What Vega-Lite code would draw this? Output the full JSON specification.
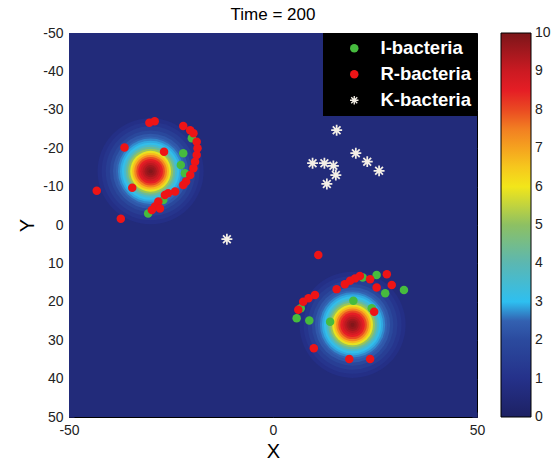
{
  "$schema": "https://vega.github.io/schema/vega-lite/v6.json",
  "width": 408,
  "height": 384,
  "autosize": {"type": "none"},
  "padding": {"left": 69, "top": 33, "right": 81, "bottom": 47},
  "title": {"text": "Time = 200", "fontSize": 17, "font": "Liberation Sans", "fontWeight": "normal", "color": "black", "offset": 2, "anchor": "middle"},
  "datasets": {
    "field": [{"x": -50, "x2": 50, "y": -50, "y2": 50, "v": 0.6}],
    "rings": [
      {"x": -30, "y": -14, "r": 13, "v": 0.9}, {"x": -30, "y": -14, "r": 12, "v": 1.15}, {"x": -30, "y": -14, "r": 11, "v": 1.5}, {"x": -30, "y": -14, "r": 10, "v": 1.9},
      {"x": -30, "y": -14, "r": 9.2, "v": 2.3}, {"x": -30, "y": -14, "r": 8.5, "v": 2.55}, {"x": -30, "y": -14, "r": 8, "v": 2.75}, {"x": -30, "y": -14, "r": 7.5, "v": 2.9},
      {"x": -30, "y": -14, "r": 7, "v": 3.1}, {"x": -30, "y": -14, "r": 6.5, "v": 3.6}, {"x": -30, "y": -14, "r": 6, "v": 4.3}, {"x": -30, "y": -14, "r": 5.5, "v": 5.1},
      {"x": -30, "y": -14, "r": 5, "v": 5.9}, {"x": -30, "y": -14, "r": 4.5, "v": 6.7}, {"x": -30, "y": -14, "r": 4, "v": 7.4}, {"x": -30, "y": -14, "r": 3.5, "v": 8.0},
      {"x": -30, "y": -14, "r": 3, "v": 8.5}, {"x": -30, "y": -14, "r": 2.5, "v": 8.9}, {"x": -30, "y": -14, "r": 2, "v": 9.2}, {"x": -30, "y": -14, "r": 1.5, "v": 9.5},
      {"x": -30, "y": -14, "r": 1, "v": 9.7}, {"x": -30, "y": -14, "r": 0.5, "v": 9.9},
      {"x": 19.5, "y": 26, "r": 13, "v": 0.9}, {"x": 19.5, "y": 26, "r": 12, "v": 1.15}, {"x": 19.5, "y": 26, "r": 11, "v": 1.5}, {"x": 19.5, "y": 26, "r": 10, "v": 1.9},
      {"x": 19.5, "y": 26, "r": 9.2, "v": 2.3}, {"x": 19.5, "y": 26, "r": 8.5, "v": 2.55}, {"x": 19.5, "y": 26, "r": 8, "v": 2.75}, {"x": 19.5, "y": 26, "r": 7.5, "v": 2.9},
      {"x": 19.5, "y": 26, "r": 7, "v": 3.1}, {"x": 19.5, "y": 26, "r": 6.5, "v": 3.6}, {"x": 19.5, "y": 26, "r": 6, "v": 4.3}, {"x": 19.5, "y": 26, "r": 5.5, "v": 5.1},
      {"x": 19.5, "y": 26, "r": 5, "v": 5.9}, {"x": 19.5, "y": 26, "r": 4.5, "v": 6.7}, {"x": 19.5, "y": 26, "r": 4, "v": 7.4}, {"x": 19.5, "y": 26, "r": 3.5, "v": 8.0},
      {"x": 19.5, "y": 26, "r": 3, "v": 8.5}, {"x": 19.5, "y": 26, "r": 2.5, "v": 8.9}, {"x": 19.5, "y": 26, "r": 2, "v": 9.2}, {"x": 19.5, "y": 26, "r": 1.5, "v": 9.5},
      {"x": 19.5, "y": 26, "r": 1, "v": 9.7}, {"x": 19.5, "y": 26, "r": 0.5, "v": 9.9}
    ],
    "pts": [
      {"x": -22, "y": -18.7, "type": "I-bacteria"}, {"x": -22.6, "y": -15.6, "type": "I-bacteria"}, {"x": -21.6, "y": -13.5, "type": "I-bacteria"},
      {"x": -19.9, "y": -22.6, "type": "I-bacteria"}, {"x": -26.9, "y": -6.5, "type": "I-bacteria"}, {"x": -30.6, "y": -3.0, "type": "I-bacteria"},
      {"x": 25.4, "y": 13.0, "type": "I-bacteria"}, {"x": 22, "y": 13.7, "type": "I-bacteria"}, {"x": 27.5, "y": 17.8, "type": "I-bacteria"},
      {"x": 32.1, "y": 16.9, "type": "I-bacteria"}, {"x": 19.7, "y": 19.7, "type": "I-bacteria"}, {"x": 24.2, "y": 21.7, "type": "I-bacteria"},
      {"x": 14.0, "y": 25.2, "type": "I-bacteria"}, {"x": 8.9, "y": 24.9, "type": "I-bacteria"}, {"x": 5.8, "y": 24.3, "type": "I-bacteria"},
      {"x": 6.8, "y": 21.7, "type": "I-bacteria"},
      {"x": -30.3, "y": -26.6, "type": "R-bacteria"}, {"x": -29, "y": -27, "type": "R-bacteria"}, {"x": -22, "y": -25.8, "type": "R-bacteria"},
      {"x": -20.3, "y": -24.7, "type": "R-bacteria"}, {"x": -19.5, "y": -23.9, "type": "R-bacteria"}, {"x": -18.7, "y": -21.7, "type": "R-bacteria"},
      {"x": -18.5, "y": -20, "type": "R-bacteria"}, {"x": -18.7, "y": -18.2, "type": "R-bacteria"}, {"x": -19.1, "y": -16.5, "type": "R-bacteria"},
      {"x": -19.5, "y": -14.8, "type": "R-bacteria"}, {"x": -20.3, "y": -13, "type": "R-bacteria"}, {"x": -21.3, "y": -11.3, "type": "R-bacteria"},
      {"x": -22, "y": -10.4, "type": "R-bacteria"}, {"x": -24, "y": -8.7, "type": "R-bacteria"}, {"x": -25.7, "y": -8.3, "type": "R-bacteria"},
      {"x": -26.5, "y": -7.8, "type": "R-bacteria"}, {"x": -28.1, "y": -6.1, "type": "R-bacteria"}, {"x": -28.9, "y": -4.8, "type": "R-bacteria"},
      {"x": -29.7, "y": -3.9, "type": "R-bacteria"}, {"x": -27.7, "y": -4.3, "type": "R-bacteria"}, {"x": -36.4, "y": -20.2, "type": "R-bacteria"},
      {"x": -26.7, "y": -19.1, "type": "R-bacteria"}, {"x": -34.5, "y": -9.7, "type": "R-bacteria"}, {"x": -43.2, "y": -8.9, "type": "R-bacteria"},
      {"x": -37.3, "y": -1.6, "type": "R-bacteria"},
      {"x": 11.1, "y": 7.8, "type": "R-bacteria"}, {"x": 27.9, "y": 12.8, "type": "R-bacteria"}, {"x": 29.1, "y": 15.6, "type": "R-bacteria"},
      {"x": 25.4, "y": 16.3, "type": "R-bacteria"}, {"x": 23.8, "y": 14.1, "type": "R-bacteria"}, {"x": 21.3, "y": 13.3, "type": "R-bacteria"},
      {"x": 20.1, "y": 13.9, "type": "R-bacteria"}, {"x": 18.9, "y": 14.5, "type": "R-bacteria"}, {"x": 17.6, "y": 15.4, "type": "R-bacteria"},
      {"x": 15.6, "y": 16.7, "type": "R-bacteria"}, {"x": 10.3, "y": 18.2, "type": "R-bacteria"}, {"x": 8.7, "y": 19.1, "type": "R-bacteria"},
      {"x": 7.4, "y": 20, "type": "R-bacteria"}, {"x": 6.2, "y": 22.1, "type": "R-bacteria"}, {"x": 24.8, "y": 22.6, "type": "R-bacteria"},
      {"x": 10.0, "y": 32.1, "type": "R-bacteria"}, {"x": 18.7, "y": 34.9, "type": "R-bacteria"}, {"x": 23.8, "y": 34.9, "type": "R-bacteria"},
      {"x": 15.6, "y": -24.7, "type": "K-bacteria"}, {"x": 20.3, "y": -18.7, "type": "K-bacteria"}, {"x": 23.1, "y": -16.5, "type": "K-bacteria"},
      {"x": 26, "y": -14.1, "type": "K-bacteria"}, {"x": 9.7, "y": -16.1, "type": "K-bacteria"}, {"x": 12.6, "y": -16.1, "type": "K-bacteria"},
      {"x": 14.8, "y": -15.4, "type": "K-bacteria"}, {"x": 15.4, "y": -13.0, "type": "K-bacteria"}, {"x": 13.2, "y": -10.7, "type": "K-bacteria"},
      {"x": -11.3, "y": 3.7, "type": "K-bacteria"}
    ]
  },
  "layer": [
    {
      "data": {"name": "field"},
      "mark": {"type": "rect"},
      "encoding": {
        "x": {"field": "x", "type": "quantitative", "title": "X", "scale": {"domain": [-50, 50], "nice": false, "zero": false},
          "axis": {"values": [-50, 0, 50], "labelExpr": "datum.value + ''", "title": "X", "titleFontSize": 20, "titleFont": "Liberation Sans", "titleFontWeight": "normal", "titleColor": "black", "titlePadding": 4,
            "labelFontSize": 14, "labelFont": "Liberation Sans", "labelColor": "#222", "labelPadding": 11, "labelFlush": false, "tickSize": -5, "tickColor": "#15184a", "domain": false, "grid": false}},
        "x2": {"field": "x2"},
        "y": {"field": "y", "type": "quantitative", "title": "Y", "scale": {"domain": [-50, 50], "reverse": true, "nice": false, "zero": false},
          "axis": {"values": [-50, -40, -30, -20, -10, 0, 10, 20, 30, 40, 50], "labelExpr": "datum.value + ''", "title": "Y", "titleFontSize": 20, "titleFont": "Liberation Sans", "titleFontWeight": "normal", "titleColor": "black", "titlePadding": 5,
            "labelFontSize": 14, "labelFont": "Liberation Sans", "labelColor": "#222", "labelPadding": 11, "labelFlush": false, "tickSize": -5, "tickColor": "#15184a", "domain": false, "grid": false}},
        "y2": {"field": "y2"},
        "color": {"field": "v", "type": "quantitative",
          "scale": {"domain": [0, 1, 2, 2.6, 3, 4, 5, 6, 6.6, 7, 7.5, 8, 8.5, 9, 10],
            "range": ["#1d2163", "#25318a", "#2b4a9e", "#3466b5", "#2ebff0", "#5bb7b2", "#8dc063", "#f2e61a", "#f7c21e", "#f5a31f", "#f27f22", "#ea4a22", "#e51e25", "#cc1a22", "#7b1519"],
            "interpolate": "rgb"},
          "legend": {"title": null, "orient": "right", "offset": 23, "padding": 0, "gradientLength": 384, "gradientThickness": 30,
            "values": [0, 1, 2, 3, 4, 5, 6, 7, 8, 9, 10], "labelFontSize": 14, "labelFont": "Liberation Sans", "labelColor": "#222", "labelOffset": 4, "labelOverlap": false,
            "gradientStrokeColor": "black", "gradientStrokeWidth": 1,
            "encode": {"labels": {"update": {"baseline": {"value": "middle"}}}}}}
      }
    },
    {
      "data": {"name": "rings"},
      "mark": {"type": "point", "filled": true, "opacity": 1, "strokeWidth": 0, "shape": "circle"},
      "encoding": {
        "x": {"field": "x", "type": "quantitative", "title": "X"},
        "y": {"field": "y", "type": "quantitative", "title": "Y", "axis": null},
        "size": {"field": "r", "type": "quantitative", "scale": {"type": "pow", "exponent": 2, "domain": [0, 13], "range": [0, 11253]}, "legend": null},
        "color": {"field": "v", "type": "quantitative"}
      }
    },
    {
      "data": {"name": "pts"},
      "transform": [{"filter": "datum.type !== 'K-bacteria'"}],
      "mark": {"type": "point", "filled": true, "opacity": 1, "strokeWidth": 0, "size": 72},
      "encoding": {
        "x": {"field": "x", "type": "quantitative", "title": "X"},
        "y": {"field": "y", "type": "quantitative", "title": "Y", "axis": null},
        "fill": {"field": "type", "type": "nominal", "scale": {"domain": ["I-bacteria", "R-bacteria", "K-bacteria"], "range": ["#46bb3e", "#ee1416", "#f4efe6"]},
          "legend": {"title": null, "orient": "top-right", "offset": 0, "fillColor": "black", "padding": 6, "labelColor": "white", "labelFont": "Liberation Sans", "labelFontSize": 18.5, "labelFontWeight": "bold", "symbolSize": 72, "symbolOffset": 16, "labelOffset": 17, "rowPadding": 7, "symbolStrokeWidth": 0}},
        "shape": {"field": "type", "type": "nominal", "scale": {"domain": ["I-bacteria", "R-bacteria", "K-bacteria"], "range": ["circle", "circle", "M-0.16,-1L0.16,-1L0.16,1L-0.16,1ZM1,-0.16L1,0.16L-1,0.16L-1,-0.16ZM0.594,-0.82L0.82,-0.594L-0.594,0.82L-0.82,0.594ZM-0.82,-0.594L-0.594,-0.82L0.82,0.594L0.594,0.82Z"]},
          "legend": {"title": null, "orient": "top-right", "offset": 0, "fillColor": "black", "padding": 6, "labelColor": "white", "labelFont": "Liberation Sans", "labelFontSize": 18.5, "labelFontWeight": "bold", "symbolSize": 72, "symbolOffset": 16, "labelOffset": 17, "rowPadding": 7, "symbolStrokeWidth": 0}}
      }
    },
    {
      "data": {"name": "pts"},
      "transform": [{"filter": "datum.type === 'K-bacteria'"}],
      "mark": {"type": "point", "filled": true, "opacity": 1, "strokeWidth": 0, "size": 120},
      "encoding": {
        "x": {"field": "x", "type": "quantitative", "title": "X"},
        "y": {"field": "y", "type": "quantitative", "title": "Y",
          "axis": {"orient": "right", "values": [-50, -40, -30, -20, -10, 0, 10, 20, 30, 40, 50], "labels": false, "title": null, "tickSize": -5, "tickColor": "#15184a", "domain": false, "grid": false}},
        "fill": {"field": "type", "type": "nominal"},
        "shape": {"field": "type", "type": "nominal"}
      }
    }
  ],
  "resolve": {"axis": {"y": "independent"}},
  "config": {"view": {"stroke": "black", "strokeWidth": 1}, "font": "Liberation Sans"}
}
